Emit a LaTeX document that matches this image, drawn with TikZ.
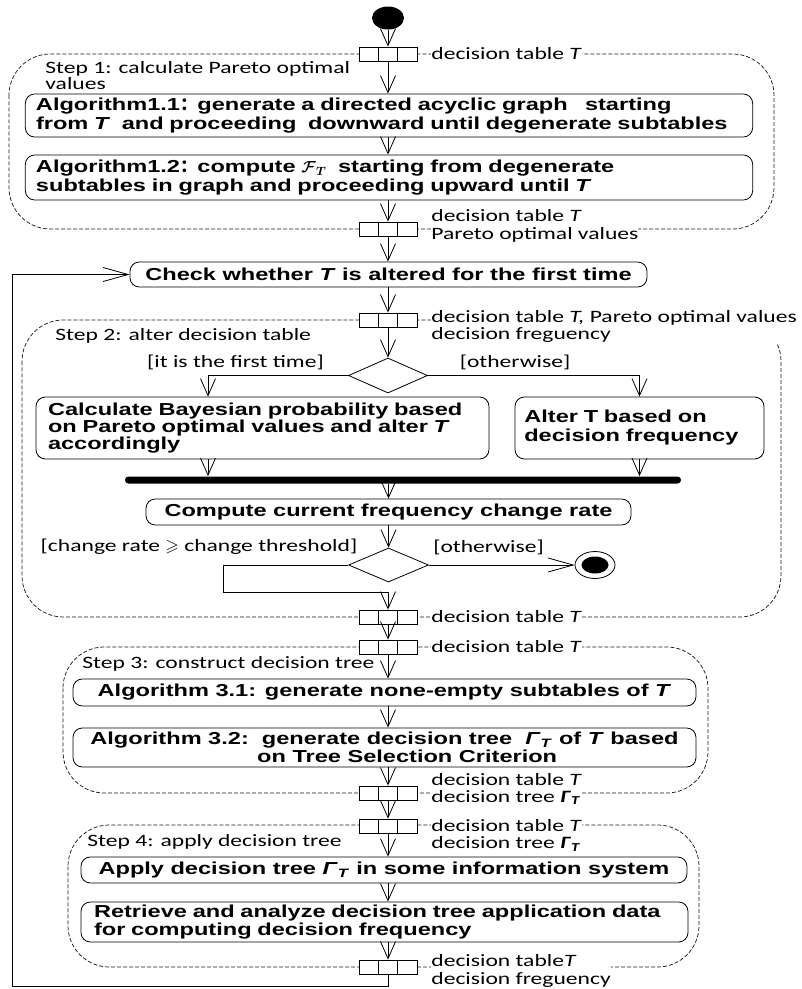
\documentclass[tikz,border=0pt]{standalone}
\usepackage{amsmath,amssymb,bm}
\usepackage{fontspec}
\setmainfont{Carlito}[FakeStretch=1.36]
\newfontfamily\boxfont{Liberation Sans}[FakeStretch=1.36]
\newfontfamily\cjkfont{Noto Sans CJK SC}
\usetikzlibrary{arrows.meta,shapes.geometric,calc}
\newcommand{\fcolon}{{\cjkfont\bfseries ：}}
\newcommand{\gammaT}{\textit{Γ}\textsubscript{\textit{T}}}

\begin{document}
\begin{tikzpicture}[
		x=0.75pt,y=-0.75pt,line width=0.6pt,
		varrow/.style={-{Straight Barb[length=12.75pt,width=11.25pt]}},
		harrow/.style={-{Straight Barb[length=18.75pt,width=10.5pt]}},
		act/.style={
			draw,rounded corners=7pt,align=left,inner xsep=8pt,inner ysep=2pt,
			font=\boxfont\bfseries\fontsize{13pt}{14.25pt}\selectfont
		},
		objpin/.style={draw,fill=white,minimum width=43.5pt,minimum height=10.5pt,inner sep=0pt},
		region/.style={draw=black!90,dash pattern=on 3pt off 1.5pt,line width=0.55pt,rounded corners=31pt},
		lbl/.style={fill=white,inner sep=0pt,anchor=west,align=left,font=\fontsize{13pt}{13pt}\selectfont},
		guard/.style={inner sep=0pt,align=left,font=\fontsize{13pt}{13pt}\selectfont},
		decision/.style={diamond,draw,inner sep=0pt}
	]
	\useasboundingbox (0,0) rectangle (802,989);

	% activity regions
	\draw[region] (9,54) rectangle (774,229);
	\draw[region] (22,320) rectangle (781,617);
	\draw[region] (63,647) rectangle (708,793);
	\draw[region] (68,825) rectangle (699,967);

	\node[ellipse,fill=black,minimum width=24pt,minimum height=17.25pt,inner sep=0pt] (start) at (388,18) {};

	% step 1
	\node[guard,anchor=west,font=\fontsize{13pt}{11.5pt}\selectfont] (s1) at (45,75.5) {Step 1: calculate Pareto optimal\\values};
	\node[act,text width=529.5pt,minimum height=32.25pt] (a11) at (389,115.5)
	{Algorithm1.1\fcolon generate a directed acyclic graph\ \ \ starting\\from \textit{T}\ \ and proceeding\ \ downward until degenerate subtables};
	\node[act,text width=529.5pt,minimum height=33.75pt] (a12) at (389,177.5)
	{Algorithm1.2\fcolon compute $\bm{\mathcal{F}}_{\bm{T}}$\ \ starting from degenerate\\subtables in graph and proceeding upward until \textit{T}};

	\node[act,minimum width=387.75pt,minimum height=18.75pt] (check) at (388.5,274.5) {Check whether \textit{T} is altered for the first time};

	% step 2
	\node[guard,anchor=west] (s2) at (55,336) {Step 2: alter decision table};
	\node[decision,minimum width=59.25pt,minimum height=26.25pt] (d1) at (388,375.5) {};
	\node[guard] (g1) at (235.5,362) {[it is the first time]};
	\node[guard] (g2) at (515,362) {[otherwise]};
	\node[act,text width=321.75pt,inner xsep=9pt,minimum height=46.5pt,
	font=\boxfont\bfseries\fontsize{13pt}{12.75pt}\selectfont] (bayes) at (262.5,428)
	{Calculate Bayesian probability based\\on Pareto optimal values and alter \textit{T}\\accordingly};
	\node[act,text width=172.75pt,inner xsep=7pt,minimum height=46.5pt] (alter) at (639.5,428) {Alter T based on\\decision frequency};
	\node[fill=black,minimum width=417pt,minimum height=5.25pt,inner sep=0pt,rounded corners=2.6pt] (bar) at (403,480) {};
	\node[act,minimum width=363.75pt,minimum height=19.5pt] (compute) at (388.5,512) {Compute current frequency change rate};
	\node[decision,minimum width=60pt,minimum height=25.5pt] (d2) at (388.5,565) {};
	\node[guard] (g3) at (199,547) {[change rate $\geqslant$ change threshold]};
	\node[guard] (g4) at (488.5,547) {[otherwise]};
	\node[ellipse,draw,fill=white,minimum width=30pt,minimum height=20.25pt,inner sep=0pt] (final) at (595,565) {};
	\node[ellipse,fill=black,minimum width=20.25pt,minimum height=12.75pt,inner sep=0pt] (finalDot) at (final.center) {};

	% step 3
	\node[guard,anchor=west] (s3) at (82,664) {Step 3: construct decision tree};
	\node[act,minimum width=467.25pt,minimum height=20.25pt] (a31) at (384.5,692.5) {Algorithm 3.1: generate none-empty subtables of \textit{T}};
	\node[act,align=center,minimum width=467.25pt,minimum height=29.25pt,
	font=\boxfont\bfseries\fontsize{13pt}{13.5pt}\selectfont] (a32) at (384.5,747.5)
	{Algorithm 3.2:\ \ generate decision tree\ \ \gammaT\ of \textit{T} based\\\hspace*{34pt}on Tree Selection Criterion};

	% step 4
	\node[guard,anchor=west] (s4) at (87,842) {Step 4: apply decision tree};
	\node[act,minimum width=454.5pt,minimum height=19.5pt] (apply) at (384,870) {Apply decision tree \gammaT\ in some information system};
	\node[act,text width=435.75pt,inner xsep=9.75pt,minimum height=30pt,
	font=\boxfont\bfseries\fontsize{13pt}{13.5pt}\selectfont] (retr) at (384.5,922)
	{Retrieve and analyze decision tree application data\\for computing decision frequency};

	% object pins
	\node[objpin] (p1) at (388,54) {};
	\node[objpin] (p2) at (388,229) {};
	\node[objpin] (p3) at (388,320) {};
	\node[objpin] (p4) at (388,617) {};
	\node[objpin] (p5) at (388,647) {};
	\node[objpin] (p6) at (388,793) {};
	\node[objpin] (p7) at (388,826) {};
	\node[objpin] (p8) at (388,967) {};
	\foreach \p in {p1,p2,p3,p4,p5,p6,p7,p8}{
		\draw ($(\p.north west)!1/3!(\p.north east)$) -- ($(\p.south west)!1/3!(\p.south east)$)
		($(\p.north west)!2/3!(\p.north east)$) -- ($(\p.south west)!2/3!(\p.south east)$);
	}

	\node[lbl] (l1) at (431,54) {decision table \textit{T}};
	\node[lbl] (l2) at (431,226) {decision table \textit{T}\\Pareto optimal values};
	\node[lbl] (l3) at (431,326.5) {decision table \textit{T,} Pareto optimal values\\decision freguency};
	\node[lbl] (l4) at (431,617) {decision table \textit{T}};
	\node[lbl] (l5) at (431,647) {decision table \textit{T}};
	\node[lbl] (l6) at (431,789) {decision table \textit{T}\\decision tree \textbf{\gammaT}};
	\node[lbl] (l7) at (431,835.5) {decision table \textit{T}\\decision tree \textbf{\gammaT}};
	\node[lbl] (l8) at (431,971) {decision table\textit{T}\\decision freguency};

	% flow
	\draw[varrow] (start) -- (p1);
	\draw[varrow] (p1.south) -- (p1.south |- a11.north);
	\draw[varrow] (a11.south -| p1) -- (a12.north -| p1);
	\draw[varrow] (a12.south -| p2) -- (p2.north);
	\draw[varrow] (p2.south) -- (p2.south |- check.north);
	\draw[varrow] (check.south -| p3) -- (p3.north);
	\draw[varrow] (p3.south) -- (d1.north);
	\coordinate (bayesIn) at ($(bayes.north)+(-54.5,0)$);
	\coordinate (bayesOut) at ($(bayes.south)+(-54.5,0)$);
	\draw[varrow] (d1.west) -| (bayesIn);
	\draw[varrow] (d1.east) -| (alter.north);
	\draw[varrow] (bayesOut) -- (bayesOut |- bar.north);
	\draw[varrow] (alter.south) -- (alter.south |- bar.north);
	\draw[varrow] (compute.north |- bar.south) -- (compute.north);
	\draw[varrow] (compute.south) -- (d2.north);
	\draw[harrow] (d2.east) -- (final.west);
	\coordinate (loopA) at (223,592);
	\draw[varrow] (d2.west) -| (loopA) -- (loopA -| p4) -- (p4.north);
	\draw[varrow] (p4.south) -- (p5.north);
	\draw[varrow] (p5.south) -- (p5.south |- a31.north);
	\draw[varrow] (a31.south -| p5) -- (a32.north -| p5);
	\draw[varrow] (a32.south -| p6) -- (p6.north);
	\draw[varrow] (p6.south) -- (p7.north);
	\draw[varrow] (p7.south) -- (p7.south |- apply.north);
	\draw[varrow] (apply.south -| p7) -- (retr.north -| p7);
	\draw[varrow] (retr.south -| p8) -- (p8.north);
	\coordinate (fbCorner) at (12,986);
	\draw[harrow] (p8.south) |- (fbCorner) |- (check.west);
\end{tikzpicture}
\end{document}
